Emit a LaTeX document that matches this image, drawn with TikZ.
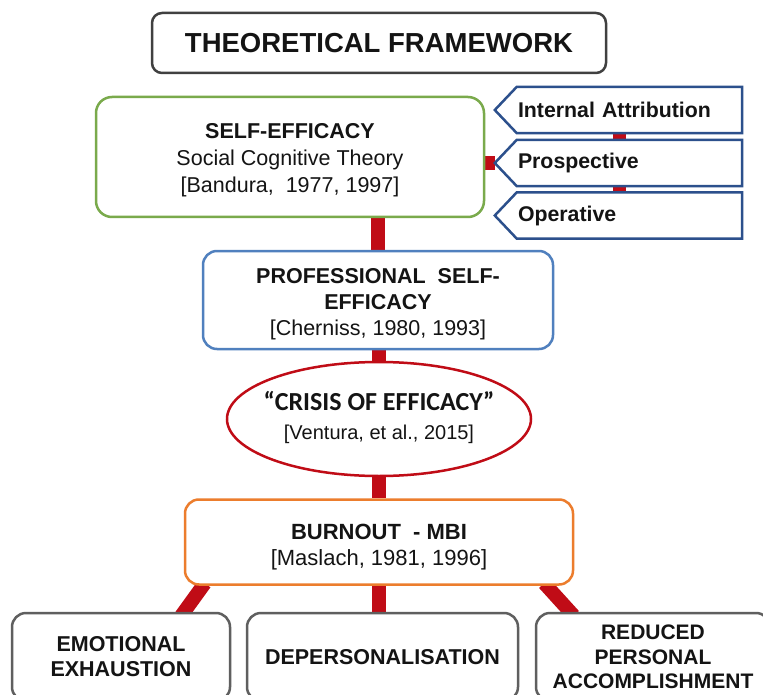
\documentclass[tikz,border=0pt]{standalone}
\usepackage{fontspec}
\setmainfont{Liberation Sans}
\newfontfamily\calibrifont{Carlito}
\usetikzlibrary{shapes.geometric,backgrounds}
\definecolor{cred}{RGB}{192,12,22}
\definecolor{cgreen}{RGB}{122,170,76}
\definecolor{cblue}{RGB}{80,128,190}
\definecolor{cnavy}{RGB}{44,80,140}
\definecolor{corange}{RGB}{236,125,45}
\definecolor{cgray}{RGB}{95,95,95}
\definecolor{cdark}{RGB}{64,64,64}
\definecolor{ctext}{RGB}{20,20,20}
\begin{document}
\begin{tikzpicture}[x=1pt,y=-1pt,
  box/.style={draw, fill=white, line width=2.5pt, align=center, inner sep=2pt, text=ctext},
  txt/.style={align=center, inner sep=0pt, text=ctext},
  chevtext/.style={draw=none, text width=223pt, align=left, inner sep=1pt,
     minimum width=225pt, minimum height=46pt, font=\fontsize{21.3}{24}\selectfont\bfseries, text=ctext},
  chevline/.style={draw=cnavy, line width=2.5pt, fill=white, line join=miter},
  link/.style={draw=cred, line width=14pt},
  smalllink/.style={draw=cred, line width=13pt}]
\clip (0,0) rectangle (763,695);

% title
\node[box, draw=cdark, rounded corners=10pt, minimum width=454pt, minimum height=60pt,
  font=\fontsize{27.5}{30}\selectfont\bfseries] (title) at (379,43) {THEORETICAL FRAMEWORK};

% self-efficacy
\node[box, draw=cgreen, rounded corners=16pt, minimum width=388pt, minimum height=120pt] (se) at (290,157) {};
\node[txt, font=\fontsize{21.5}{27}\selectfont] (set) at ([yshift=-3pt]se.center)
  {\textbf{SELF-EFFICACY}\\Social Cognitive Theory\\{[Bandura,\ \ 1977, 1997]}};

% chevrons
\node[chevtext] (ia) at (629.5,110) {};
\node[chevtext] (pr) at (629.5,163) {};
\node[chevtext] (op) at (629.5,215.5) {};
\coordinate (iatip) at ([xshift=-22pt]ia.west);
\coordinate (prtip) at ([xshift=-22pt]pr.west);
\coordinate (optip) at ([xshift=-22pt]op.west);
\draw[chevline] (ia.north east) -- (ia.north west) -- (iatip) -- (ia.south west) -- (ia.south east) -- cycle;
\draw[chevline] (pr.north east) -- (pr.north west) -- (prtip) -- (pr.south west) -- (pr.south east) -- cycle;
\draw[chevline] (op.north east) -- (op.north west) -- (optip) -- (op.south west) -- (op.south east) -- cycle;
\node[chevtext] (iat) at (ia.center) {Internal Attribution};
\node[chevtext] (prt) at (pr.center) {Prospective};
\node[chevtext] (opt) at (op.center) {Operative};

% professional self-efficacy
\node[box, draw=cblue, rounded corners=14pt, minimum width=350pt, minimum height=98pt] (pse) at (378,300) {};
\node[txt, font=\fontsize{21.5}{26}\selectfont] (pset) at ([yshift=-4.5pt]pse.center)
  {\textbf{PROFESSIONAL\ \ SELF-}\\\textbf{EFFICACY}\\{[Cherniss, 1980, 1993]}};

% crisis of efficacy
\node[box, ellipse, draw=cred, inner sep=0pt, minimum width=304pt, minimum height=114pt] (cr) at (379,419) {};
\node[txt, font=\fontsize{20}{29}\selectfont] (crt) at ([yshift=1.5pt]cr.center)
  {{\calibrifont\fontsize{26}{29}\selectfont\bfseries “CRISIS OF EFFICACY”}\\
   {[Ventura, et al., 2015]}};

% burnout
\node[box, draw=corange, rounded corners=14pt, minimum width=388pt, minimum height=85pt] (bo) at (379,542) {};
\node[txt, font=\fontsize{22}{26}\selectfont] (bot) at ([yshift=-5pt]bo.center)
  {\textbf{BURNOUT\ \ - MBI}\\{[Maslach,\ 1981, 1996]}};

% bottom boxes
\node[box, font=\fontsize{21.5}{25}\selectfont\bfseries, draw=cgray, rounded corners=14pt, minimum width=218pt, minimum height=88pt]
  (b1) at (121,657) {EMOTIONAL\\EXHAUSTION};
\node[box, font=\fontsize{21.5}{25}\selectfont\bfseries, draw=cgray, rounded corners=14pt, minimum width=271pt, minimum height=88pt]
  (b2) at (382.5,657) {DEPERSONALISATION};
\node[box, font=\fontsize{21}{24.5}\selectfont\bfseries, draw=cgray, rounded corners=14pt, minimum width=234pt, minimum height=88pt]
  (b3) at (653,657) {REDUCED\\PERSONAL\\ACCOMPLISHMENT};

\begin{pgfonlayer}{background}
\fill[white] (0,0) rectangle (763,695);
\draw[link] (prtip) -- (prtip -| se.east);
\draw[smalllink] ([xshift=-10pt]ia.south) -- ([xshift=-10pt]pr.north);
\draw[smalllink] ([xshift=-10pt]pr.south) -- ([xshift=-10pt]op.north);
\draw[link] (pse.north) -- (pse.north |- se.south);
\draw[link] (cr.north) -- (cr.north |- pse.south);
\draw[link] (cr.south) -- (bo.north);
\draw[link] (bo.south) -- (bo.south |- b2.north);
\draw[link] ([xshift=21pt,yshift=2.5pt]bo.south west) -- ([xshift=-50pt,yshift=-4pt]b1.north east);
\draw[link] ([xshift=-30pt,yshift=2.5pt]bo.south east) -- ([xshift=39pt,yshift=-4pt]b3.north west);
\end{pgfonlayer}
\end{tikzpicture}
\end{document}
